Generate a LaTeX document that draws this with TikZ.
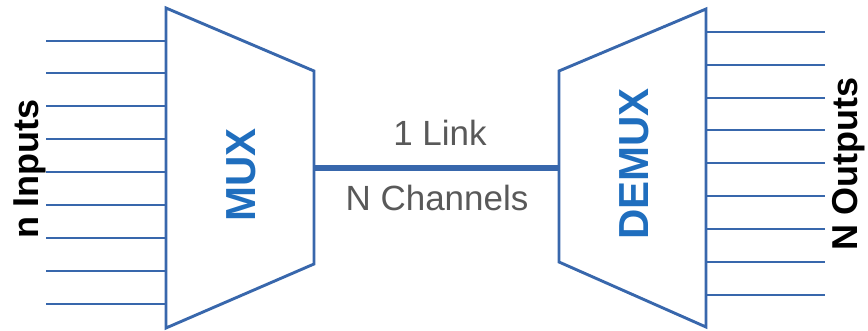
\documentclass[tikz,border=0pt]{standalone}
\usepackage{fontspec}
\setmainfont{Liberation Sans}
\definecolor{lineblue}{HTML}{3867AC}
\definecolor{textblue}{HTML}{1F6EBE}
\definecolor{textgray}{HTML}{595959}
\tikzset{
  wire/.style={draw=lineblue, line width=2.9pt},
  link/.style={draw=lineblue, line width=5.5pt},
  boxshape/.style={draw=lineblue, line width=2.9pt, line join=miter},
  blocklabel/.style={text=textblue, font=\bfseries\fontsize{42}{46}\selectfont, rotate=90, inner sep=0pt},
  sidelabel/.style={text=black, font=\bfseries\fontsize{36}{40}\selectfont, rotate=90, inner sep=0pt},
  linklabel/.style={text=textgray, font=\fontsize{35}{40}\selectfont, inner sep=0pt}
}
\begin{document}
\begin{tikzpicture}[x=1pt,y=-1pt]
\useasboundingbox (0,0) rectangle (868,331);
% MUX
\draw[boxshape] (166,8) -- (314,71) -- (314,264) -- (166,328) -- cycle;
\coordinate (muxout) at (314,168);
% DEMUX
\draw[boxshape] (559,71) -- (706,9) -- (706,327) -- (559,262) -- cycle;
\coordinate (demuxin) at (559,168);
% inputs
\foreach \i/\y in {1/41,2/73,3/106,4/139,5/172,6/205,7/238,8/271,9/304} {
  \coordinate (in\i) at (46,\y);
  \coordinate (mi\i) at (166,\y);
  \draw[wire] (in\i) -- (mi\i);
}
% outputs
\foreach \i/\y in {1/32,2/65,3/98,4/130,5/163,6/196,7/229,8/262,9/295} {
  \coordinate (do\i) at (706,\y);
  \coordinate (out\i) at (825,\y);
  \draw[wire] (do\i) -- (out\i);
}
% link
\draw[link] (muxout) -- (demuxin);
% labels
\node[blocklabel] (muxlabel) at (241,175) {MUX};
\node[blocklabel] (demuxlabel) at (634,164) {DEMUX};
\node[sidelabel] (inlabel) at (30,169) {n Inputs};
\node[sidelabel] (outlabel) at (849,164) {N Outputs};
\node[linklabel] (linktop) at (440,133) {1 Link};
\node[linklabel] (linkbot) at (437,198) {N Channels};
\end{tikzpicture}
\end{document}
